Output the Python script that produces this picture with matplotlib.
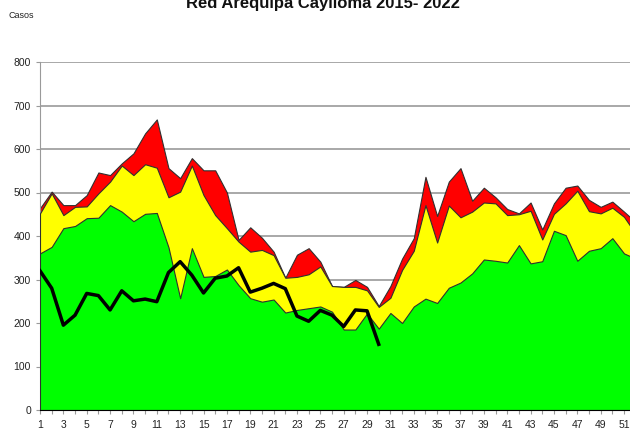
import numpy as np
import matplotlib
matplotlib.use('Agg')
import matplotlib.pyplot as plt

weeks = np.arange(1, 53)

# upper limit of the alarm zone (red)
red = [464, 502, 471, 471, 494, 546, 540, 567, 590, 636, 668, 556, 533, 579, 551, 551,
       500, 391, 420, 396, 364, 304, 357, 372, 341, 285, 283, 299, 283, 239, 285, 348,
       395, 536, 446, 525, 556, 481, 511, 489, 462, 452, 477, 415, 475, 511, 516, 483,
       467, 479, 456, 432]
# security zone (yellow)
yellow = [452, 498, 448, 467, 468, 498, 525, 562, 540, 565, 557, 489, 502, 562, 494, 448,
          418, 387, 364, 368, 356, 304, 306, 312, 330, 285, 283, 283, 275, 237, 258, 322,
          366, 471, 385, 470, 443, 456, 477, 475, 448, 450, 458, 392, 451, 475, 504, 457,
          452, 465, 444, 405]
# success zone (green)
green = [360, 375, 418, 423, 441, 442, 471, 456, 434, 451, 453, 374, 257, 372, 306, 308,
         323, 287, 257, 249, 254, 224, 230, 234, 238, 226, 185, 185, 222, 187, 223, 200,
         238, 256, 246, 281, 293, 314, 346, 343, 339, 379, 337, 342, 412, 402, 343, 366,
         372, 395, 360, 348]
# 2022 cases
cases_2022 = [320, 280, 195, 218, 268, 263, 230, 274, 251, 255, 249, 316, 341, 310, 269, 303,
              308, 327, 271, 280, 291, 279, 216, 204, 229, 218, 192, 230, 228, 151]

plt.rcParams['font.family'] = ['Liberation Sans Narrow', 'Liberation Sans', 'DejaVu Sans']

fig = plt.figure(figsize=(6.3, 4.37), dpi=100)
ax = fig.add_axes([40 / 630, 27 / 437, 595.7 / 630, 348 / 437])

edge = '#303030'
ax.fill_between(weeks, 0, red, facecolor='#FF0000', edgecolor=edge, linewidth=0.8, zorder=2)
ax.fill_between(weeks, 0, yellow, facecolor='#FFFF00', edgecolor=edge, linewidth=0.8, zorder=3)
ax.fill_between(weeks, 0, green, facecolor='#00FF00', edgecolor=edge, linewidth=0.8, zorder=4)
ax.plot(np.arange(1, len(cases_2022) + 1), cases_2022, color='black', linewidth=2.5, zorder=5)

ax.set_xlim(1, 52)
ax.set_ylim(0, 800)
ax.set_yticks(range(0, 801, 100))
ax.set_xticks(weeks)
ax.set_xticklabels([str(w) if w % 2 == 1 else '' for w in weeks])
ax.grid(axis='y', color='#9a9a9a', linewidth=1.2, zorder=0)
ax.set_axisbelow(True)

for s in ['top', 'right']:
    ax.spines[s].set_visible(False)
ax.spines['left'].set_color('#9a9a9a')
ax.spines['bottom'].set_color('black')
ax.spines['bottom'].set_zorder(6)
ax.tick_params(axis='both', labelsize=7.5, colors='#9a9a9a', labelcolor='#222222', length=3)
ax.tick_params(axis='x', pad=4)

# title sits partly above the top edge, as in the original
fig.text(323 / 630, 1 - 8 / 437, 'Red Arequipa Caylloma 2015- 2022', ha='center', va='baseline',
         fontsize=12, fontweight='bold', color='#111111')
fig.text(0.013, 0.965, 'Casos', ha='left', va='center', fontsize=6.5, color='#222222')

fig.savefig('out.png', dpi=100)
